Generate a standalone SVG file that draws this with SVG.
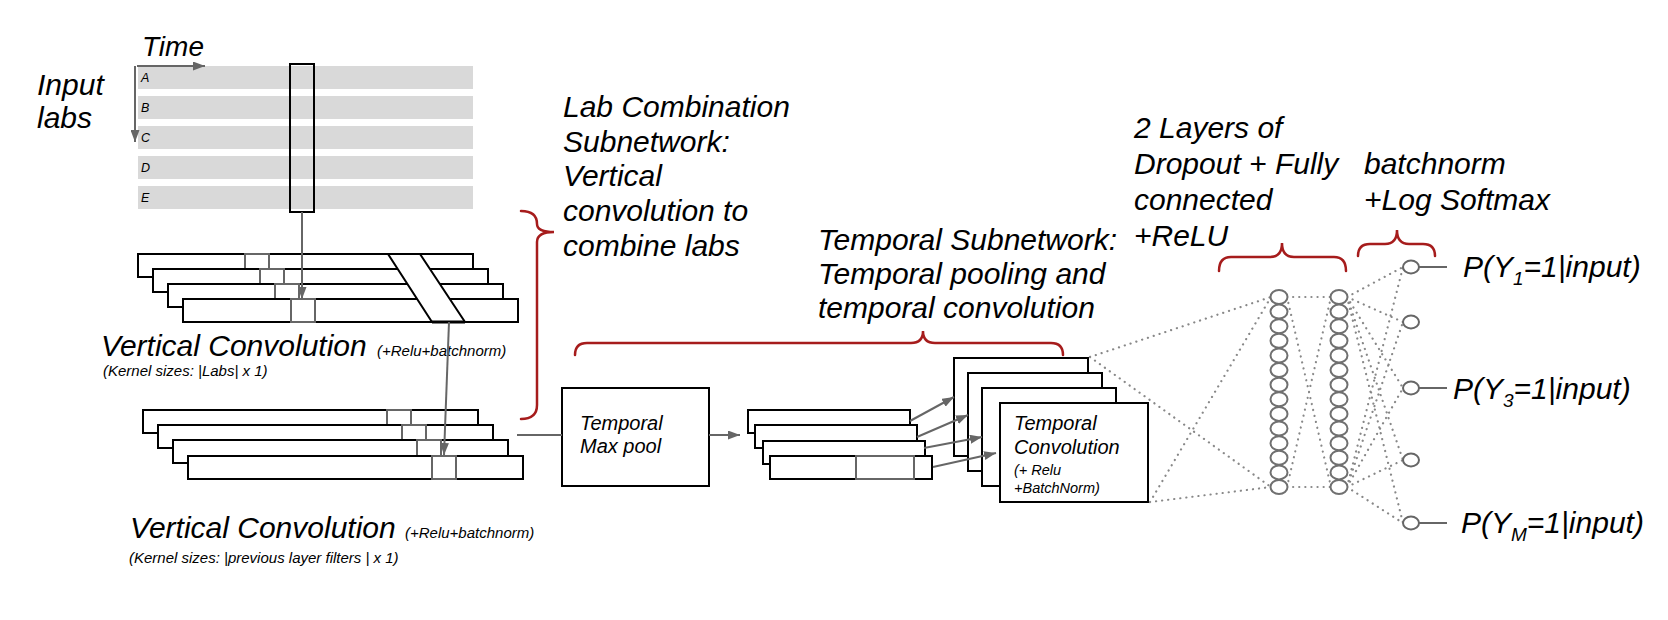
<svg xmlns="http://www.w3.org/2000/svg" width="1668" height="620" viewBox="0 0 1668 620">
<style>
text{font-family:"Liberation Sans",Arial,sans-serif;font-style:italic;fill:#000}
.big{font-size:30px}
.mid{font-size:20px}
.sm{font-size:15px}
.xs{font-size:12.5px}
.box{fill:#fff;stroke:#000;stroke-width:2}
.kern{fill:none;stroke:#666;stroke-width:2}
.bar{fill:#d9d9d9}
.arr{stroke:#666;stroke-width:2;fill:none;marker-end:url(#ah)}
.brace{fill:none;stroke:#a61c1c;stroke-width:2.5;stroke-linecap:round}
.dot{stroke:#888;stroke-width:2.2;stroke-dasharray:0.1 6;stroke-linecap:round;fill:none}
.node{fill:#fff;stroke:#707070;stroke-width:2}
.lead{stroke:#666;stroke-width:2}
</style>
<defs>
<marker id="ah" viewBox="0 0 12 9" refX="12" refY="4.5" markerWidth="12" markerHeight="9" markerUnits="userSpaceOnUse" orient="auto"><path d="M0,0 L12,4.5 L0,9 z" fill="#666"/></marker>
<ellipse id="nd" cx="0" cy="0" rx="8.5" ry="7" class="node"/>
</defs>
<rect width="1668" height="620" fill="#fff"/>

<g id="input-labs">
<text x="37" y="95" style="font-size:30px">Input</text>
<text x="37" y="128" style="font-size:30px">labs</text>
<text x="142" y="56" style="font-size:28px">Time</text>
<rect class="bar" x="138" y="66" width="335" height="23"/>
<rect class="bar" x="138" y="96" width="335" height="23"/>
<rect class="bar" x="138" y="126" width="335" height="23"/>
<rect class="bar" x="138" y="156" width="335" height="23"/>
<rect class="bar" x="138" y="186" width="335" height="23"/>
<text class="xs" x="141" y="82">A</text>
<text class="xs" x="141" y="112">B</text>
<text class="xs" x="141" y="142">C</text>
<text class="xs" x="141" y="172">D</text>
<text class="xs" x="141" y="202">E</text>
<path class="arr" d="M137,66 L205,66"/>
<path class="arr" d="M135,66 L135,142"/>
<rect x="290" y="64" width="24" height="148" fill="none" stroke="#000" stroke-width="2"/>
</g>

<g id="vconv1">
<rect class="box" x="138" y="254" width="335" height="23"/>
<rect class="kern" x="245" y="254" width="24" height="23"/>
<rect class="box" x="153" y="269" width="335" height="23"/>
<rect class="kern" x="260" y="269" width="24" height="23"/>
<rect class="box" x="168" y="284" width="335" height="23"/>
<rect class="kern" x="275" y="284" width="24" height="23"/>
<rect class="box" x="183" y="299" width="335" height="23"/>
<rect class="kern" x="291" y="299" width="24" height="23"/>
<path d="M388,254 L420,254 L465,322 L432,322 Z" fill="#fff" stroke="#000" stroke-width="2"/>
<path d="M432,322 L465,322" stroke="#000" stroke-width="3"/>
<text class="big" x="101" y="356">Vertical Convolution</text>
<text class="sm" x="377" y="356">(+Relu+batchnorm)</text>
<text class="sm" x="103" y="376">(Kernel sizes: |Labs| x 1)</text>
</g>

<g id="vconv2">
<rect class="box" x="143" y="410" width="335" height="23"/>
<rect class="kern" x="387" y="410" width="24" height="23"/>
<rect class="box" x="158" y="425" width="335" height="23"/>
<rect class="kern" x="402" y="425" width="24" height="23"/>
<rect class="box" x="173" y="440" width="335" height="23"/>
<rect class="kern" x="417" y="440" width="24" height="23"/>
<rect class="box" x="188" y="456" width="335" height="23"/>
<rect class="kern" x="432" y="456" width="24" height="23"/>
<text class="big" x="130" y="538">Vertical Convolution</text>
<text class="sm" x="405" y="538">(+Relu+batchnorm)</text>
<text class="sm" x="129" y="563">(Kernel sizes: |previous layer filters | x 1)</text>
</g>

<g id="lab-combination-label">
<text class="big" x="563" y="117">Lab Combination</text>
<text class="big" x="563" y="152">Subnetwork:</text>
<text class="big" x="563" y="186">Vertical</text>
<text class="big" x="563" y="221">convolution to</text>
<text class="big" x="563" y="256">combine labs</text>
</g>

<g id="maxpool">
<rect class="box" x="562" y="388" width="147" height="98"/>
<text class="mid" x="580" y="430">Temporal</text>
<text class="mid" x="580" y="453">Max pool</text>
</g>

<g id="pooled-stack">
<rect class="box" x="748" y="410" width="162" height="23"/>
<rect class="box" x="755" y="425" width="162" height="23"/>
<rect class="box" x="763" y="441" width="162" height="23"/>
<rect class="box" x="770" y="456" width="162" height="23"/>
<rect class="kern" x="856" y="456" width="58" height="23"/>
</g>

<g id="temporal-label">
<text class="big" x="818" y="250">Temporal Subnetwork:</text>
<text class="big" x="818" y="284">Temporal pooling and</text>
<text class="big" x="818" y="318">temporal convolution</text>
</g>

<g id="tconv">
<rect class="box" x="954" y="358" width="134" height="98"/>
<rect class="box" x="968" y="373" width="134" height="98"/>
<rect class="box" x="982" y="388" width="134" height="98"/>
<rect class="box" x="1000" y="403" width="148" height="99"/>
<text class="mid" x="1014" y="430">Temporal</text>
<text class="mid" x="1014" y="454">Convolution</text>
<text x="1014" y="475" style="font-size:14.5px">(+ Relu</text>
<text x="1014" y="493" style="font-size:14.5px">+BatchNorm)</text>
</g>

<g id="fc-label">
<text class="big" x="1134" y="138">2 Layers of</text>
<text class="big" x="1134" y="174">Dropout + Fully</text>
<text class="big" x="1134" y="210">connected</text>
<text class="big" x="1134" y="246">+ReLU</text>
</g>
<g id="softmax-label">
<text class="big" x="1364" y="174">batchnorm</text>
<text class="big" x="1364" y="210">+Log Softmax</text>
</g>

<g id="braces">
<path class="brace" d="M521,211 Q537,211 537,224 Q537,232 554,232 Q537,232 537,242 L537,405 Q537,419 521,419"/>
<path class="brace" d="M575,355 Q575,343 587,343 L911,343 Q923,343 923,331 Q923,343 935,343 L1051,343 Q1063,343 1063,355"/>
<path class="brace" d="M1219,271 Q1219,257 1231,257 L1270,257 Q1282,257 1282,243 Q1282,257 1294,257 L1334,257 Q1346,257 1346,271"/>
<path class="brace" d="M1358,256 Q1358,244 1370,244 L1385,244 Q1397,244 1397,230 Q1397,244 1409,244 L1423,244 Q1435,244 1435,256"/>
</g>

<g id="connectors">
<path class="arr" d="M302,212 L302,299"/>
<path class="arr" d="M449,322 L444,455"/>
<path class="lead" d="M517,435 L562,435"/>
<path class="arr" d="M709,435 L740,435"/>
<path class="arr" d="M910,421 L954,397"/>
<path class="arr" d="M917,437 L968,415"/>
<path class="arr" d="M924,448 L982,437"/>
<path class="arr" d="M933,467 L996,453"/>
<path class="dot" d="M1090,357 L1271,297 M1090,357 L1271,487 M1150,502 L1271,297 M1150,502 L1271,487"/>
<path class="dot" d="M1287,297 L1331,297 M1287,297 L1331,487 M1287,487 L1331,297 M1287,487 L1331,487"/>
<path class="dot" d="M1347,297 L1403,267 M1347,297 L1403,322 M1347,297 L1403,388 M1347,297 L1403,460 M1347,297 L1403,523 M1347,487 L1403,267 M1347,487 L1403,322 M1347,487 L1403,388 M1347,487 L1403,460 M1347,487 L1403,523"/>
<path class="lead" d="M1419,267 L1447,267 M1419,388 L1447,388 M1419,523 L1447,523"/>
</g>

<g id="fc-layer1">
<use href="#nd" x="1279" y="297"/><use href="#nd" x="1279" y="311.6"/><use href="#nd" x="1279" y="326.2"/><use href="#nd" x="1279" y="340.8"/><use href="#nd" x="1279" y="355.5"/><use href="#nd" x="1279" y="370.1"/><use href="#nd" x="1279" y="384.7"/><use href="#nd" x="1279" y="399.3"/><use href="#nd" x="1279" y="413.9"/><use href="#nd" x="1279" y="428.5"/><use href="#nd" x="1279" y="443.2"/><use href="#nd" x="1279" y="457.8"/><use href="#nd" x="1279" y="472.4"/><use href="#nd" x="1279" y="487"/>
</g>
<g id="fc-layer2">
<use href="#nd" x="1339" y="297"/><use href="#nd" x="1339" y="311.6"/><use href="#nd" x="1339" y="326.2"/><use href="#nd" x="1339" y="340.8"/><use href="#nd" x="1339" y="355.5"/><use href="#nd" x="1339" y="370.1"/><use href="#nd" x="1339" y="384.7"/><use href="#nd" x="1339" y="399.3"/><use href="#nd" x="1339" y="413.9"/><use href="#nd" x="1339" y="428.5"/><use href="#nd" x="1339" y="443.2"/><use href="#nd" x="1339" y="457.8"/><use href="#nd" x="1339" y="472.4"/><use href="#nd" x="1339" y="487"/>
</g>
<g id="outputs">
<ellipse class="node" cx="1411" cy="267" rx="8" ry="6.5" style="stroke:#666"/>
<ellipse class="node" cx="1411" cy="322" rx="8" ry="6.5" style="stroke:#666"/>
<ellipse class="node" cx="1411" cy="388" rx="8" ry="6.5" style="stroke:#666"/>
<ellipse class="node" cx="1411" cy="460" rx="8" ry="6.5" style="stroke:#666"/>
<ellipse class="node" cx="1411" cy="523" rx="8" ry="6.5" style="stroke:#666"/>
<text class="big" x="1463" y="277">P(Y<tspan dy="8" style="font-size:19px">1</tspan><tspan dy="-8">=1|input)</tspan></text>
<text class="big" x="1453" y="399">P(Y<tspan dy="8" style="font-size:19px">3</tspan><tspan dy="-8">=1|input)</tspan></text>
<text class="big" x="1461" y="533">P(Y<tspan dy="8" style="font-size:19px">M</tspan><tspan dy="-8">=1|input)</tspan></text>
</g>
</svg>
